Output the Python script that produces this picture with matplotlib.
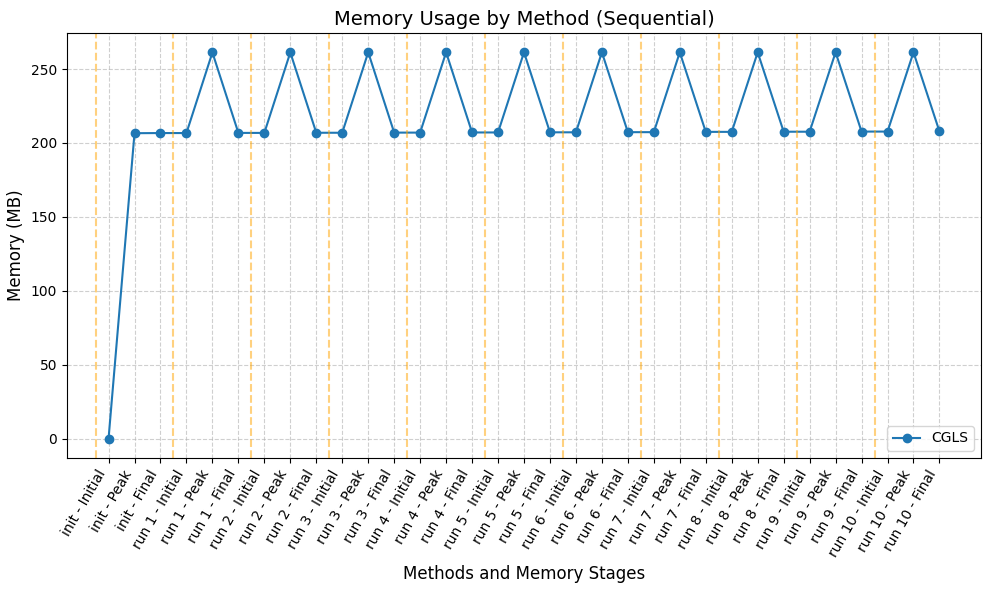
import matplotlib
matplotlib.use("Agg")
import matplotlib.pyplot as plt

stages = ["Initial", "Peak", "Final"]
phases = ["init"] + [f"run {i}" for i in range(1, 11)]
labels = [f"{p} - {s}" for p in phases for s in stages]

memory_cgls = [
    0.0, 206.6, 206.7,
    206.7, 261.2, 206.8,
    206.8, 261.2, 206.9,
    206.9, 261.3, 207.0,
    207.0, 261.3, 207.1,
    207.1, 261.3, 207.2,
    207.2, 261.3, 207.3,
    207.3, 261.3, 207.5,
    207.5, 261.3, 207.6,
    207.6, 261.3, 207.7,
    207.7, 261.3, 207.8,
]

run_starts = [3 * i - 0.5 for i in range(len(phases))]

fig, ax = plt.subplots(figsize=(9.89, 5.9), dpi=100)
x = list(range(len(labels)))
ax.plot(x, memory_cgls, marker="o", label="CGLS")
for b in run_starts:
    ax.axvline(b, color="orange", linestyle="--", alpha=0.5)
ax.set_xlim(-1.6, len(labels) - 1 + 1.6)
ax.set_xticks(x)
ax.set_xticklabels(labels, rotation=60, ha="right")
ax.set_title("Memory Usage by Method (Sequential)", fontsize=14)
ax.set_xlabel("Methods and Memory Stages", fontsize=12)
ax.set_ylabel("Memory (MB)", fontsize=12)
ax.grid(True, linestyle="--", alpha=0.6)
ax.legend(loc="lower right")
fig.subplots_adjust(left=67/989, right=981/989, top=1-33/590, bottom=1-458/590)
fig.savefig("out.png", dpi=100)
